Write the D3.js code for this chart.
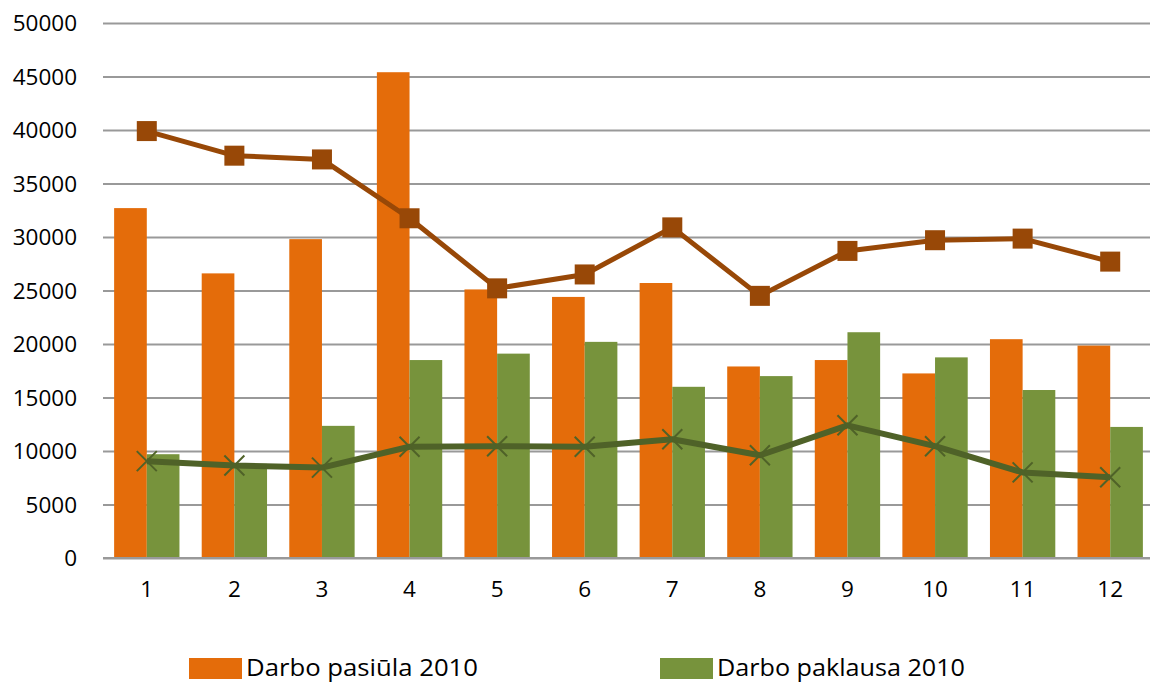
<!DOCTYPE html>
<html lang="en">
<head>
<meta charset="utf-8">
<title>Darbo pasiūla ir paklausa 2010</title>
<script src="https://d3js.org/d3.v7.min.js"></script>
<style>
  body { margin: 0; background: #fff; }
  svg text { font-family: "Open Sans", "Noto Sans", sans-serif; fill: #000; }
</style>
</head>
<body>
<div id="chart"></div>
<script>
// data
var months = ["1", "2", "3", "4", "5", "6", "7", "8", "9", "10", "11", "12"];
var supplyBars = [32700, 26600, 29800, 45400, 25100, 24400, 25700, 17900, 18500, 17250, 20450, 19850];
var demandBars = [9700, 8800, 12350, 18500, 19100, 20200, 16000, 17000, 21100, 18750, 15700, 12250];
var supplyLine = [39900, 37600, 37250, 31750, 25200, 26500, 30900, 24500, 28700, 29700, 29850, 27700];
var demandLine = [9050, 8650, 8450, 10400, 10450, 10400, 11100, 9600, 12400, 10450, 8000, 7550];
var yTicks = [0, 5000, 10000, 15000, 20000, 25000, 30000, 35000, 40000, 45000, 50000];
var legendNames = ["Darbo pasiūla 2010", "Darbo paklausa 2010"];

var width = 1150, height = 684;
var plotLeft = 103, plotRight = 1154, plotTop = 23, plotBottom = 558;

var svg = d3.select("#chart").append("svg")
  .attr("width", width)
  .attr("height", height);

var x = d3.scaleBand().domain(months).range([plotLeft, plotRight]).padding(0);
var y = d3.scaleLinear().domain([0, 50000]).range([plotBottom, plotTop]);
var barW = x.bandwidth() * 0.373;

// gridlines
var yAxis = d3.axisLeft(y).tickValues(yTicks).tickSize(plotLeft - plotRight).tickFormat(d3.format("d")).tickPadding(26);
var gy = svg.append("g").attr("transform", "translate(" + plotLeft + ",0)").call(yAxis);
gy.select(".domain").remove();
gy.selectAll(".tick line").attr("stroke", "#999").attr("stroke-width", 2);
gy.selectAll(".tick text").style("font-size", "22.5px").attr("dy", "0.35em");

// bars
var g = svg.append("g");
g.selectAll(".sb").data(supplyBars).enter().append("rect")
  .attr("x", function(d, i) { return x(months[i]) + x.bandwidth() / 2 - barW; })
  .attr("y", function(d) { return y(d); })
  .attr("width", barW)
  .attr("height", function(d) { return plotBottom - y(d); })
  .attr("fill", "#E46C0A");
g.selectAll(".db").data(demandBars).enter().append("rect")
  .attr("x", function(d, i) { return x(months[i]) + x.bandwidth() / 2; })
  .attr("y", function(d) { return y(d); })
  .attr("width", barW)
  .attr("height", function(d) { return plotBottom - y(d); })
  .attr("fill", "#77933C");

// x axis line + labels
var xAxis = d3.axisBottom(x).tickSize(0).tickPadding(23);
var gx = svg.append("g").attr("transform", "translate(0," + plotBottom + ")").call(xAxis);
gx.select(".domain").attr("stroke", "#999").attr("stroke-width", 2).attr("d", "M" + plotLeft + ",0H" + plotRight);
gx.selectAll(".tick text").style("font-size", "22.5px");

var cx = function(d, i) { return x(months[i]) + x.bandwidth() / 2; };
var line = d3.line().x(cx).y(function(d) { return y(d); });

// supply line with square markers
svg.append("path").datum(supplyLine)
  .attr("d", line)
  .attr("fill", "none")
  .attr("stroke", "#984807")
  .attr("stroke-width", 5)
  .attr("stroke-linejoin", "round");
svg.selectAll(".sq").data(supplyLine).enter().append("rect")
  .attr("x", function(d, i) { return cx(d, i) - 10; })
  .attr("y", function(d) { return y(d) - 10; })
  .attr("width", 20).attr("height", 20)
  .attr("fill", "#984807");

// demand line with x markers
svg.append("path").datum(demandLine)
  .attr("d", line)
  .attr("fill", "none")
  .attr("stroke", "#4F6228")
  .attr("stroke-width", 6)
  .attr("stroke-linejoin", "round");
svg.selectAll(".xm").data(demandLine).enter().append("path")
  .attr("d", function(d, i) {
    var px = cx(d, i), py = y(d), s = 10;
    return "M" + (px - s) + "," + (py - s) + "L" + (px + s) + "," + (py + s) +
           "M" + (px - s) + "," + (py + s) + "L" + (px + s) + "," + (py - s);
  })
  .attr("stroke", "#4F6228")
  .attr("stroke-width", 2)
  .attr("fill", "none");

// legend
var legendColors = ["#E46C0A", "#77933C"];
var legendX = [189, 660];
var legendLen = [232, 248];
var lg = svg.selectAll(".lg").data(legendNames).enter().append("g")
  .attr("transform", function(d, i) { return "translate(" + legendX[i] + ",658)"; });
lg.append("rect").attr("width", 53).attr("height", 21)
  .attr("fill", function(d, i) { return legendColors[i]; });
lg.append("text").attr("x", 57).attr("y", 18)
  .style("font-size", "23px")
  .attr("textLength", function(d, i) { return legendLen[i]; })
  .attr("lengthAdjust", "spacingAndGlyphs")
  .text(function(d) { return d; });
</script>
</body>
</html>
